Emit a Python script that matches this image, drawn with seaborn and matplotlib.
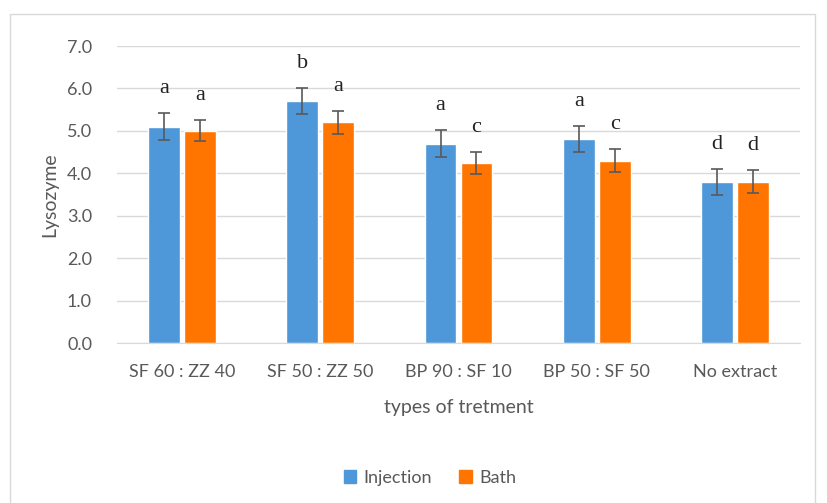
import matplotlib.pyplot as plt
import matplotlib.patches as mpatches
import numpy as np
import pandas as pd
import seaborn as sns

# values
treatments = ["SF 60 : ZZ 40", "SF 50 : ZZ 50", "BP 90 : SF 10", "BP 50 : SF 50", "No extract"]
injection = [5.1, 5.7, 4.7, 4.8, 3.8]
bath = [5.0, 5.2, 4.25, 4.3, 3.8]
injection_err = [0.31, 0.30, 0.31, 0.31, 0.31]
bath_err = [0.25, 0.27, 0.26, 0.27, 0.27]
injection_letters = ["a", "b", "a", "a", "d"]
bath_letters = ["a", "a", "c", "c", "d"]

df = pd.DataFrame({
    "treatment": treatments * 2,
    "method": ["Injection"] * 5 + ["Bath"] * 5,
    "value": injection + bath,
})

sns.set_style("white")
plt.rcParams["font.family"] = ["Lato", "DejaVu Sans"]
grey = "#595959"
palette = {"Injection": "#4E97D8", "Bath": "#FF7500"}

fig = plt.figure(figsize=(8.27, 5.03), dpi=100)
ax = fig.add_axes([117 / 827, 1 - 343 / 503, 683 / 827, 297 / 503])

sns.barplot(data=df, x="treatment", y="value", hue="method", order=treatments,
            hue_order=["Injection", "Bath"], palette=palette, width=0.52, gap=0.12,
            saturation=1, ax=ax, legend=False, zorder=2)

# error bars and significance letters on top of each bar
errs = injection_err + bath_err
letters = injection_letters + bath_letters
for patch, err, letter in zip(ax.patches, errs, letters):
    xc = patch.get_x() + patch.get_width() / 2
    h = patch.get_height()
    ax.errorbar(xc, h, yerr=err, color=grey, capsize=4, elinewidth=1.2,
                capthick=1.2, zorder=3)
    ax.text(xc, h + err + 0.58, letter, ha="center", va="center",
            family="Liberation Serif", fontsize=16, color="#222222")

ax.set_ylim(0, 7)
ax.set_yticks(np.arange(0, 7.1, 1))
ax.set_yticklabels([f"{v:.1f}" for v in np.arange(0, 7.1, 1)])
ax.yaxis.grid(True, color="#d9d9d9", linewidth=1, zorder=0)
ax.set_axisbelow(True)
for s in ax.spines.values():
    s.set_visible(False)
ax.spines["bottom"].set_visible(True)
ax.spines["bottom"].set_color("#d9d9d9")
ax.tick_params(axis="both", length=0, labelsize=13, colors=grey)
ax.tick_params(axis="y", pad=18)
ax.tick_params(axis="x", pad=15)
ax.set_xlabel("types of tretment", fontsize=14, color=grey, labelpad=14)
ax.set_ylabel("Lysozyme", fontsize=14, color=grey, labelpad=6)

handles = [mpatches.Patch(color=palette[k], label=k) for k in ["Injection", "Bath"]]
fig.legend(handles=handles, loc="center", bbox_to_anchor=(430 / 827, 1 - 478 / 503),
           ncol=2, frameon=False, fontsize=13, labelcolor=grey, handlelength=0.7,
           handleheight=0.7, handletextpad=0.4, columnspacing=1.5)

# outer chart border
fig.patches.append(mpatches.Rectangle((10 / 827, -0.05), 805 / 827, 1 - 14 / 503 + 0.05,
                                      transform=fig.transFigure, fill=False,
                                      edgecolor="#d9d9d9", linewidth=1))

fig.savefig("out.png", dpi=100)
